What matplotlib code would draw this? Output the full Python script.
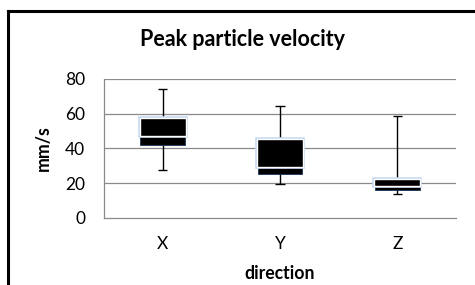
import matplotlib
matplotlib.use("Agg")
import matplotlib.pyplot as plt
from matplotlib.lines import Line2D

categories = ["X", "Y", "Z"]
whisker_min = [27.7, 19.3, 13.8]
q1 = [42.1, 25.3, 16.1]
median = [47.2, 29.5, 18.4]
q3 = [57.2, 45.2, 22.2]
whisker_max = [74.2, 64.3, 58.7]
yticks = [0, 20, 40, 60, 80]

plt.rcParams['font.family'] = ['Lato', 'DejaVu Sans']

fig = plt.figure(figsize=(4.75, 2.85), dpi=100)
ax = fig.add_axes([104/475, 1-218/285, 352/475, (218-78.7)/285])

x = list(range(len(categories)))
w = 0.39
grid_c = '#8a8a8a'

# whiskers
for xi, lo, hi in zip(x, whisker_min, whisker_max):
    ax.plot([xi, xi], [lo, hi], color='black', lw=1.0, zorder=2, solid_capstyle='butt')
    for v in (lo, hi):
        ax.plot([xi - 0.04, xi + 0.04], [v, v], color='black', lw=1.0, zorder=2, solid_capstyle='butt')

# lower box (Q1 -> median)
low_h = [m - a for m, a in zip(median, q1)]
ax.bar(x, low_h, bottom=q1, width=w*0.97, color='black', edgecolor='#17365d', linewidth=0.6, zorder=3)
# upper box (median -> Q3), white edge with light blue glow
up_h = [b - m for b, m in zip(q3, median)]
ax.bar(x, up_h, bottom=median, width=w, color='black', edgecolor='#c6d9f0', linewidth=2.6, zorder=4)
ax.bar(x, up_h, bottom=median, width=w, color='black', edgecolor='white', linewidth=1.0, zorder=5)

ax.set_xlim(-0.5, 2.5)
ax.set_ylim(0, 80)
ax.set_yticks(yticks)
ax.set_xticks(x)
ax.set_xticklabels(categories)
ax.tick_params(axis='both', length=0, labelsize=12.5, colors='black')
ax.tick_params(axis='y', pad=13.5)
ax.tick_params(axis='x', pad=13)
for t in yticks[1:]:
    ax.axhline(t, color=grid_c, lw=0.9, zorder=1)
for s in ['top', 'right']:
    ax.spines[s].set_visible(False)
ax.spines['left'].set_color(grid_c)
ax.spines['bottom'].set_color(grid_c)
ax.spines['left'].set_linewidth(0.9)
ax.spines['bottom'].set_linewidth(0.9)

fig.text(243/475, 1-40/285, "Peak particle velocity", ha='center', va='center',
         fontsize=15.5, fontweight='bold')
fig.text(43.3/475, 1-148/285, "mm/s", ha='center', va='center', rotation=90,
         fontsize=12.7, fontweight='bold')
fig.text(280/475, 1-273.3/285, "direction", ha='center', va='center',
         fontsize=12.7, fontweight='bold')

# outer frame (left and top visible)
fig.add_artist(Line2D([8.3/475, 8.3/475], [0, 1-10.7/285], transform=fig.transFigure,
                      color='black', lw=2.2, solid_capstyle='projecting'))
fig.add_artist(Line2D([8.3/475, 1.0], [1-10.7/285, 1-10.7/285], transform=fig.transFigure,
                      color='black', lw=2.2, solid_capstyle='projecting'))

fig.savefig("out.png", dpi=100, facecolor='white')
